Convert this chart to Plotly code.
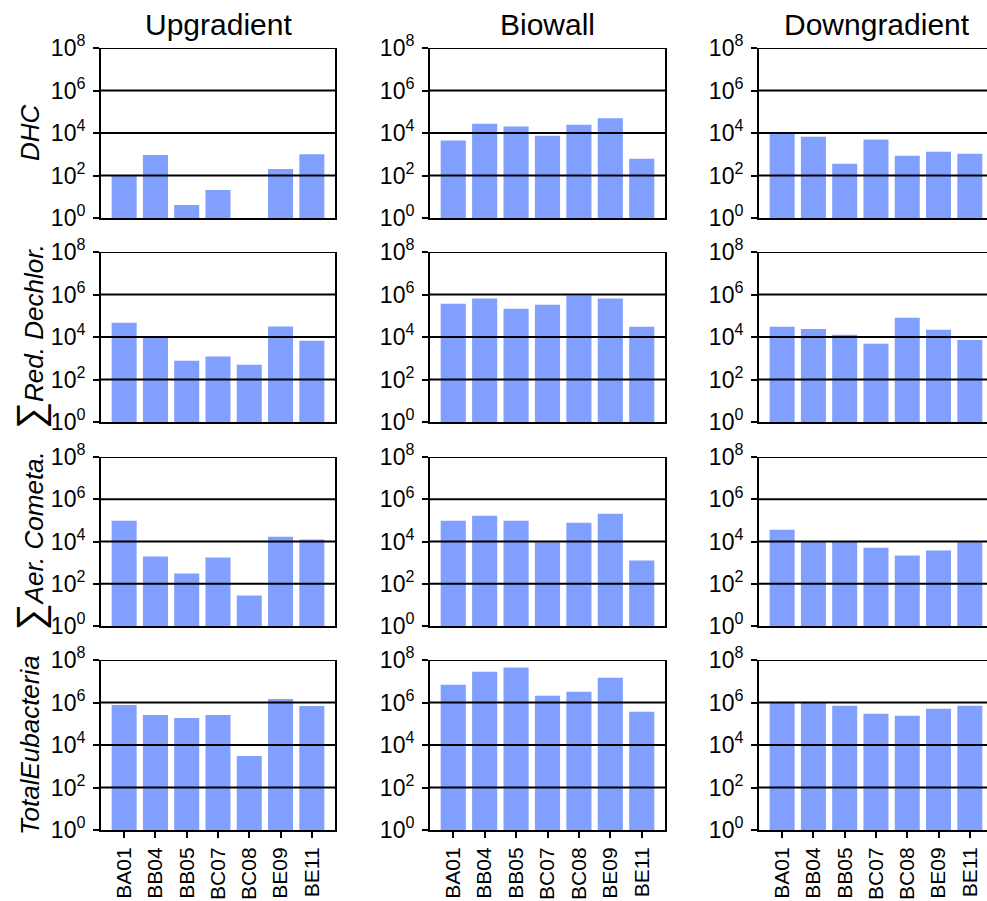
import plotly.graph_objects as go

# Sampling wells (x categories) and the three zones (columns)
wells = ["BA01", "BB04", "BB05", "BC07", "BC08", "BE09", "BE11"]
zones = ["Upgradient", "Biowall", "Downgradient"]

# Row labels (gene targets)
row_labels = [
    "<i>DHC</i>",
    "<span style='font-size:38px'>∑</span><i>Red. Dechlor.</i>",
    "<span style='font-size:38px'>∑</span><i>Aer. Cometa.</i>",
    "<i>TotalEubacteria</i>",
]

# Gene copy abundances per well
dhc_up = [100, 920, 4.1, 21, None, 200, 1000]
dhc_bio = [4400, 27500, 20000, 7500, 24600, 49000, 620]
dhc_down = [8900, 6700, 360, 4900, 860, 1300, 1060]

red_up = [47000, 10700, 770, 1200, 500, 31000, 6700]
red_bio = [370000, 640000, 215000, 330000, 900000, 640000, 30000]
red_down = [30000, 24000, 12600, 4800, 81000, 22000, 7300]

aer_up = [96000, 1940, 305, 1740, 28, 17000, 12300]
aer_bio = [96000, 166000, 96000, 9100, 78000, 206000, 1250]
aer_down = [36000, 9800, 9800, 5100, 2150, 3700, 9100]

eub_up = [760000, 260000, 186000, 260000, 3000, 1450000, 690000]
eub_bio = [6.9e6, 2.8e7, 4.4e7, 2.1e6, 3.2e6, 1.48e7, 370000]
eub_down = [1.0e6, 9.5e5, 710000, 295000, 240000, 510000, 710000]

grid = [
    [dhc_up, dhc_bio, dhc_down],
    [red_up, red_bio, red_down],
    [aer_up, aer_bio, aer_down],
    [eub_up, eub_bio, eub_down],
]

# Log axis ticks
tick_vals = [1, 1e2, 1e4, 1e6, 1e8]
tick_text = ["10<sup>0</sup>", "10<sup>2</sup>", "10<sup>4</sup>", "10<sup>6</sup>", "10<sup>8</sup>"]
grid_vals = [1e2, 1e4, 1e6, 1e8]

W, H = 987, 901
col_px = [(101, 335), (430, 665), (759, 987)]
row_px = [(48, 218), (252, 422), (457, 626), (660, 830)]
x_ranges = [[-0.74, 6.74], [-0.74, 6.74], [-0.74, 6.55]]

FONT = "Liberation Sans, Arial, sans-serif"
BAR_COLOR = "#809fff"

fig = go.Figure()
layout = dict(
    width=W, height=H,
    margin=dict(l=0, r=0, t=0, b=0),
    paper_bgcolor="white", plot_bgcolor="white",
    showlegend=False, bargap=0.2,
    font=dict(family=FONT, color="black"),
)
shapes = []
annotations = []

for r in range(4):
    for c in range(3):
        n = r * 3 + c + 1
        sfx = "" if n == 1 else str(n)
        fig.add_trace(go.Bar(
            x=wells, y=grid[r][c],
            marker=dict(color=BAR_COLOR, line=dict(width=0)),
            xaxis="x" + sfx, yaxis="y" + sfx,
        ))
        x0, x1 = col_px[c]
        y0, y1 = row_px[r]
        bottom_row = r == 3
        layout["xaxis" + sfx] = dict(
            domain=[x0 / W, x1 / W], anchor="y" + sfx,
            type="category", range=x_ranges[c],
            showline=True, linecolor="black", linewidth=2,
            showgrid=False, zeroline=False,
            ticks="outside" if bottom_row else "",
            ticklen=6, tickwidth=1.6, tickcolor="black",
            showticklabels=bottom_row, tickangle=-90,
            tickfont=dict(size=21, family=FONT, color="black"),
            ticklabelstandoff=1,
            layer="above traces", automargin=False, fixedrange=True,
        )
        layout["yaxis" + sfx] = dict(
            domain=[1 - y1 / H, 1 - y0 / H], anchor="x" + sfx,
            type="log", range=[0, 8],
            tickmode="array", tickvals=tick_vals, ticktext=tick_text,
            showline=True, linecolor="black", linewidth=2,
            mirror=(c < 2),
            showgrid=False, zeroline=False,
            ticks="outside", ticklen=6, tickwidth=1.6, tickcolor="black",
            tickfont=dict(size=23, family=FONT, color="black"),
            ticklabelstandoff=3,
            layer="above traces", automargin=False, fixedrange=True,
        )
        for v in grid_vals:
            shapes.append(dict(
                type="line", xref="x" + sfx + " domain", yref="y" + sfx,
                x0=0, x1=1, y0=v, y1=v,
                line=dict(color="black", width=2), layer="above",
            ))

# Column headers
for c, name in enumerate(zones):
    x0, _ = col_px[c]
    annotations.append(dict(
        text=name, xref="paper", yref="paper",
        x=(x0 + 117.5) / W, y=1 - 25 / H,
        showarrow=False, xanchor="center", yanchor="middle",
        font=dict(size=30, family=FONT, color="black"),
    ))

# Row labels
for r, lab in enumerate(row_labels):
    y0, y1 = row_px[r]
    annotations.append(dict(
        text=lab, xref="paper", yref="paper",
        x=30 / W, y=1 - (y0 + y1) / 2 / H,
        showarrow=False, textangle=-90,
        xanchor="center", yanchor="middle",
        font=dict(size=26, family=FONT, color="black"),
    ))

layout["shapes"] = shapes
layout["annotations"] = annotations
fig.update_layout(**layout)
fig.write_html("out.html")
